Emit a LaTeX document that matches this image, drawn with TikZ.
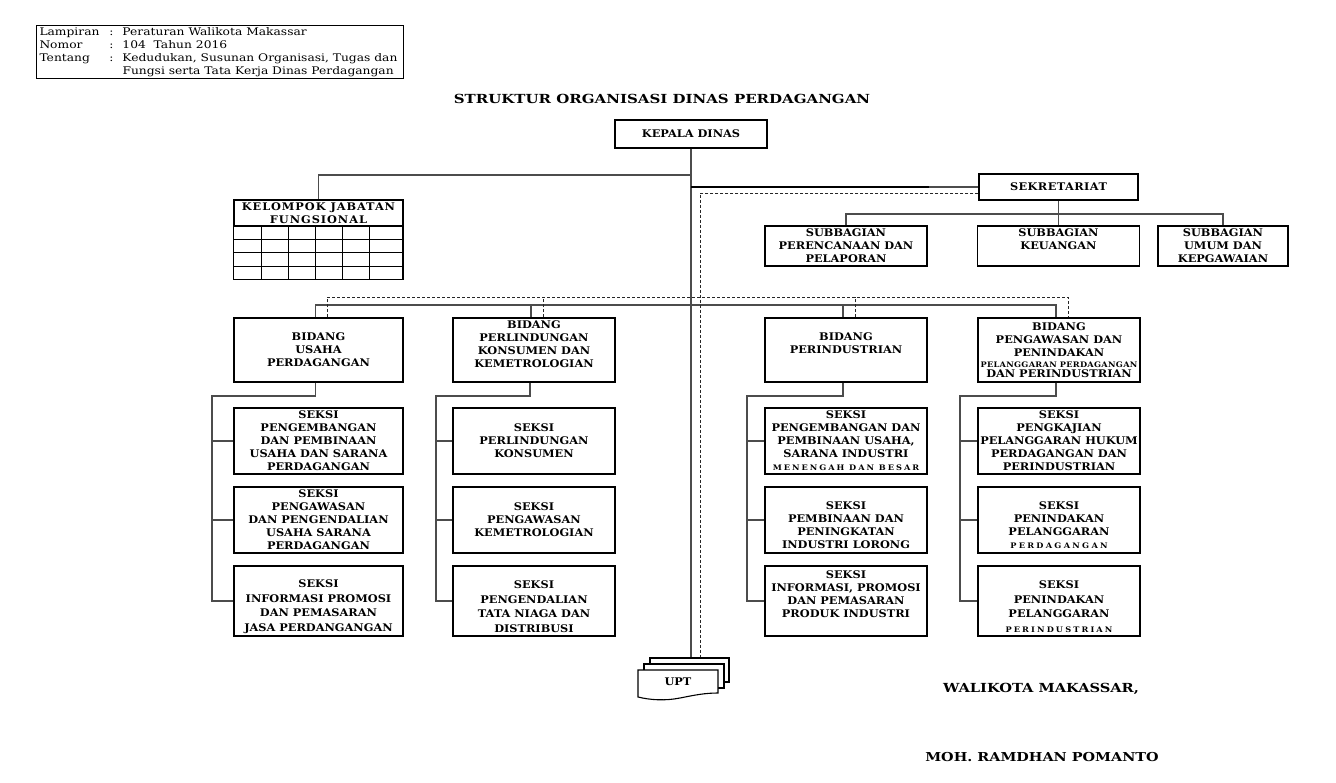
\documentclass[tikz,border=0pt]{standalone}
\usepackage{fontspec}
\setmainfont{DejaVu Serif}
\newfontfamily\boxfont{DejaVu Serif}[FakeStretch=1.08]
\newfontfamily\headfont{DejaVu Serif}[FakeStretch=1.17]
\newfontfamily\titlefont{DejaVu Serif}[FakeStretch=1.2]
\newcommand\boxtext{\boxfont\fontsize{10.5}{13}\selectfont\bfseries}
\newcommand\tinytext[1][13]{\fontsize{7.6}{9}\selectfont\addfontfeature{LetterSpace=#1}}
\newcommand\toppad[1]{\rule{0pt}{#1}}
\newcommand\botpad[1]{\rule[-#1]{0pt}{0pt}}
\tikzset{
  unit/.style={draw, line width=1.2pt, align=center, inner sep=0pt, font=\boxtext},
  link/.style={draw=black!70, line width=1.3pt},
  dotlink/.style={draw=black!85, line width=0.9pt, dash pattern=on 3pt off 2pt},
  card/.style={draw, line width=1.1pt, fill=white, inner sep=0pt}
}
\begin{document}
\begin{tikzpicture}[x=1pt, y=-1pt]
\useasboundingbox (0,0) rectangle (1336,782);

% kepala lampiran
\node[draw, line width=1pt, anchor=north west, inner xsep=3pt, inner ysep=0.5pt,
  font=\headfont\fontsize{10.5}{13}\selectfont] (lampiran) at (36,25) {%
  \begin{tabular}{@{}p{70pt}@{}p{13pt}@{}p{278pt}@{}}
  Lampiran & : & Peraturan Walikota Makassar\\
  Nomor & : & 104\ \ Tahun 2016\\
  Tentang & : & Kedudukan, Susunan Organisasi, Tugas dan\\
   & & Fungsi serta Tata Kerja Dinas Perdagangan
  \end{tabular}};

\node[font=\titlefont\fontsize{12.5}{14}\selectfont\bfseries] (judul) at (662,99) {STRUKTUR ORGANISASI DINAS PERDAGANGAN};

\node[unit, minimum width=152, minimum height=28] (kadis) at (691,134) {KEPALA DINAS};
\node[unit, minimum width=159, minimum height=26, font=\boxtext\addfontfeature{LetterSpace=4}] (sekr) at (1058.5,187) {SEKRETARIAT};

% kelompok jabatan fungsional
\node[unit, minimum width=169, minimum height=26, font=\boxtext\addfontfeature{LetterSpace=9}] (kjf) at (318.5,213) {KELOMPOK JABATAN\\FUNGSIONAL};
\draw[line width=1.2pt] (kjf.south west) rectangle (403,279.3);
\draw[line width=1pt] (234,239.3) -- (403,239.3);
\draw[line width=1pt] (234,252.7) -- (403,252.7);
\draw[line width=1pt] (234,266) -- (403,266);
\draw[line width=1pt] (261,226) -- (261,279.3);
\draw[line width=1pt] (288,226) -- (288,279.3);
\draw[line width=1pt] (315,226) -- (315,279.3);
\draw[line width=1pt] (342,226) -- (342,279.3);
\draw[line width=1pt] (369,226) -- (369,279.3);

% subbagian
\node[unit, minimum width=162, minimum height=40] (sb1) at (846,246) {SUBBAGIAN\\PERENCANAAN DAN\\PELAPORAN};
\node[unit, minimum width=162, minimum height=40] (sb2) at (1058.5,246) {SUBBAGIAN\\KEUANGAN\\\mbox{}};
\node[unit, minimum width=130, minimum height=40] (sb3) at (1223,246) {SUBBAGIAN\\UMUM DAN\\KEPGAWAIAN};

% bidang
\node[unit, minimum width=169, minimum height=64] (b1) at (318.5,350) {BIDANG\\USAHA\\PERDAGANGAN};
\node[unit, minimum width=162, minimum height=64] (b2) at (534,350) {BIDANG\\PERLINDUNGAN\\KONSUMEN DAN\\KEMETROLOGIAN\botpad{11pt}};
\node[unit, minimum width=162, minimum height=64] (b3) at (846,350) {BIDANG\\PERINDUSTRIAN\\\mbox{}};
\node[unit, minimum width=162, minimum height=64] (b4) at (1059,350) {BIDANG\\PENGAWASAN DAN\\PENINDAKAN\\[-2pt]{\tinytext[4] PELANGGARAN PERDAGANGAN}\\[-3pt]DAN PERINDUSTRIAN};

% seksi
\node[unit, minimum width=169, minimum height=66] (s11) at (318.5,441) {SEKSI\\PENGEMBANGAN\\DAN PEMBINAAN\\USAHA DAN SARANA\\PERDAGANGAN};
\node[unit, minimum width=169, minimum height=66] (s12) at (318.5,520) {SEKSI\\PENGAWASAN\\DAN PENGENDALIAN\\USAHA SARANA\\PERDAGANGAN};
\node[unit, minimum width=169, minimum height=70] (s13) at (318.5,601) {\toppad{19.5pt}SEKSI\\[1.5pt]INFORMASI PROMOSI\\[1.5pt]DAN PEMASARAN\\[1.5pt]JASA PERDANGANGAN};

\node[unit, minimum width=162, minimum height=66] (s21) at (534,441) {SEKSI\\PERLINDUNGAN\\KONSUMEN};
\node[unit, minimum width=162, minimum height=66] (s22) at (534,520) {SEKSI\\PENGAWASAN\\KEMETROLOGIAN};
\node[unit, minimum width=162, minimum height=70] (s23) at (534,601) {\toppad{19.5pt}SEKSI\\[1.5pt]PENGENDALIAN\\[1.5pt]TATA NIAGA DAN\\[1.5pt]DISTRIBUSI};

\node[unit, minimum width=162, minimum height=66] (s31) at (846,441) {SEKSI\\PENGEMBANGAN DAN\\PEMBINAAN USAHA,\\SARANA INDUSTRI\\{\tinytext[26] MENENGAH DAN BESAR}};
\node[unit, minimum width=162, minimum height=66] (s32) at (846,520) {\toppad{19pt}SEKSI\\PEMBINAAN DAN\\PENINGKATAN\\INDUSTRI LORONG};
\node[unit, minimum width=162, minimum height=70] (s33) at (846,601) {SEKSI\\INFORMASI, PROMOSI\\DAN PEMASARAN\\PRODUK INDUSTRI\botpad{14pt}};

\node[unit, minimum width=162, minimum height=66] (s41) at (1059,441) {SEKSI\\PENGKAJIAN\\PELANGGARAN HUKUM\\PERDAGANGAN DAN\\PERINDUSTRIAN};
\node[unit, minimum width=162, minimum height=66] (s42) at (1059,520) {\toppad{19pt}SEKSI\\PENINDAKAN\\PELANGGARAN\\{\tinytext[30] PERDAGANGAN}};
\node[unit, minimum width=162, minimum height=70] (s43) at (1059,601) {\toppad{19.5pt}SEKSI\\[1.5pt]PENINDAKAN\\[1.5pt]PELANGGARAN\\[1.5pt]{\tinytext[28] PERINDUSTRIAN}};

% UPT
\node[card, minimum width=79, minimum height=24] (upt3) at (689.5,670) {};
\node[card, minimum width=80, minimum height=24] (upt2) at (684,676) {};
\draw[card] (638,670) -- (718,670) -- (718,693) .. controls (705,693) and (695,695) .. (680,698) .. controls (665,701) and (650,700) .. (638,697) -- cycle;
\node[font=\boxtext] (upt) at (678,682) {UPT};

% tanda tangan
\node[font=\headfont\fontsize{12.5}{14}\selectfont\bfseries] (wali) at (1041,689) {WALIKOTA MAKASSAR,};
\node[font=\headfont\fontsize{12.3}{14}\selectfont\bfseries] (nama) at (1042,757) {MOH. RAMDHAN POMANTO};

% garis komando
\coordinate (kbar) at (0,175);
\coordinate (sbar) at (0,214);
\coordinate (bbar) at (0,305);
\coordinate (dbar) at (0,297);
\coordinate (d1) at (700,193);
\coordinate (tebal) at (929,187);
\draw[link] (kadis.south) -- (kadis.south |- upt3.north);
\draw[link] (kjf.north) |- (kadis.south |- kbar);
\draw[link] (tebal) -- (sekr.west);
\draw[draw=black, line width=2.4pt] (kadis.south |- sekr.west) -- (tebal);
\draw[link] (sekr.south) -- (sb2.north);
\draw[link] (sb1.north) |- (sb3.north |- sbar) -- (sb3.north);

\draw[link] ([xshift=-3]b1.north) |- ([xshift=-3]b4.north |- bbar) -- ([xshift=-3]b4.north);
\draw[link] ([xshift=-3]b2.north) -- ([xshift=-3]b2.north |- bbar);
\draw[link] ([xshift=-3]b3.north) -- ([xshift=-3]b3.north |- bbar);

% garis koordinasi
\draw[dotlink] (sekr.west |- d1) -- (d1) -- (d1 |- upt3.north);
\draw[dotlink] ([xshift=9]b1.north) |- ([xshift=9]b4.north |- dbar) -- ([xshift=9]b4.north);
\draw[dotlink] ([xshift=9]b2.north) -- ([xshift=9]b2.north |- dbar);
\draw[dotlink] ([xshift=9]b3.north) -- ([xshift=9]b3.north |- dbar);

% seksi
\coordinate (r1) at (212,396);
\coordinate (r2) at (436,396);
\coordinate (r3) at (747,396);
\coordinate (r4) at (960,396);
\draw[link] ([xshift=-3]b1.south) |- (r1) |- (s13.west);
\draw[link] (r1 |- s11.west) -- (s11.west);
\draw[link] (r1 |- s12.west) -- (s12.west);
\draw[link] ([xshift=-4]b2.south) |- (r2) |- (s23.west);
\draw[link] (r2 |- s21.west) -- (s21.west);
\draw[link] (r2 |- s22.west) -- (s22.west);
\draw[link] ([xshift=-3]b3.south) |- (r3) |- (s33.west);
\draw[link] (r3 |- s31.west) -- (s31.west);
\draw[link] (r3 |- s32.west) -- (s32.west);
\draw[link] ([xshift=-3]b4.south) |- (r4) |- (s43.west);
\draw[link] (r4 |- s41.west) -- (s41.west);
\draw[link] (r4 |- s42.west) -- (s42.west);
\end{tikzpicture}
\end{document}
